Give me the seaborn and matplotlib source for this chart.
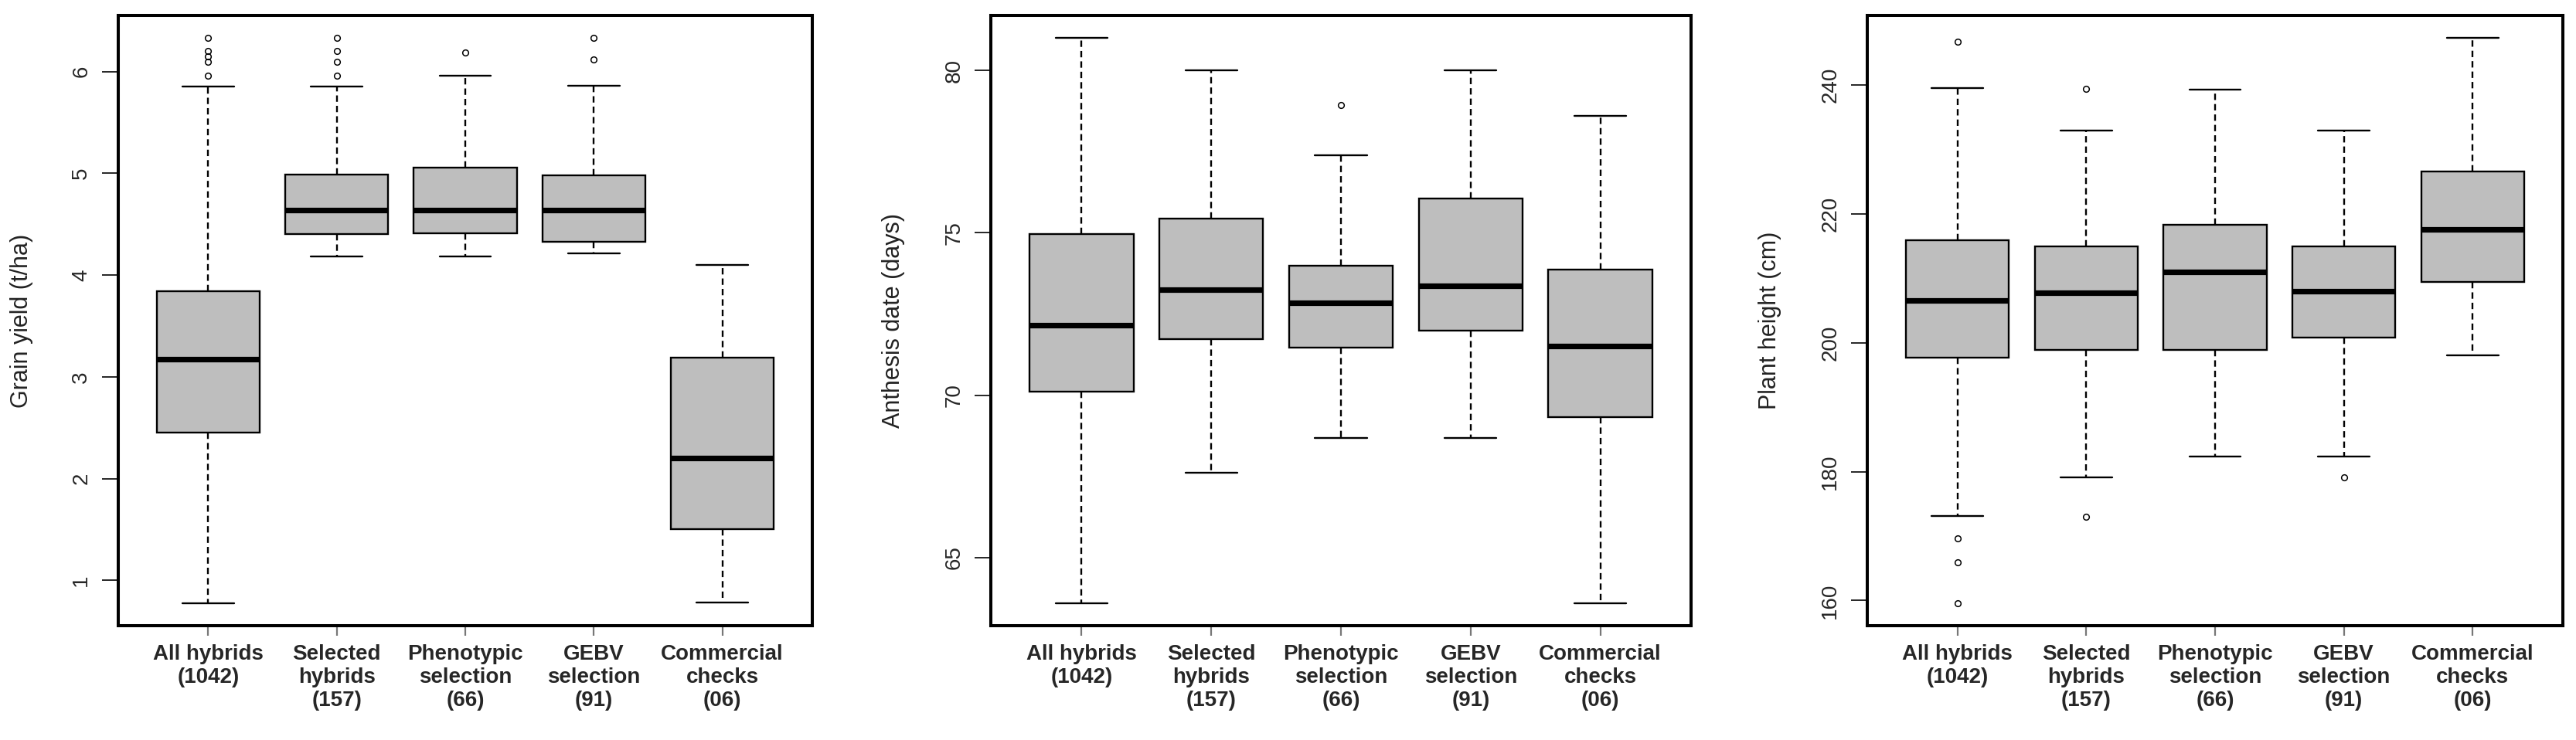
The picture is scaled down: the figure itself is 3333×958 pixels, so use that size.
import numpy as np
import pandas as pd
import matplotlib
matplotlib.use('Agg')
import matplotlib.pyplot as plt
import seaborn as sns

sns.set_style('white')
plt.rcParams['font.family'] = ['Liberation Sans', 'DejaVu Sans']

groups = ['All hybrids\n(1042)', 'Selected\nhybrids\n(157)', 'Phenotypic\nselection\n(66)',
          'GEBV\nselection\n(91)', 'Commercial\nchecks\n(06)']

# grain yield (t/ha): whisker low, q1, median, q3, whisker high, outliers
gy_low = [0.776, 4.18, 4.18, 4.21, 0.78]
gy_q1 = [2.45, 4.40, 4.41, 4.33, 1.505]
gy_med = [3.17, 4.64, 4.64, 4.64, 2.205]
gy_q3 = [3.84, 4.99, 5.06, 4.98, 3.19]
gy_high = [5.855, 5.855, 5.96, 5.86, 4.10]
gy_out = [[5.96, 6.10, 6.15, 6.20, 6.33], [5.96, 6.10, 6.20, 6.33], [6.19], [6.12, 6.33], []]

# anthesis date (days)
ad_low = [63.6, 67.62, 68.68, 68.68, 63.6]
ad_q1 = [70.12, 71.72, 71.46, 71.98, 69.33]
ad_med = [72.16, 73.26, 72.84, 73.36, 71.52]
ad_q3 = [74.96, 75.43, 74.00, 76.05, 73.86]
ad_high = [81.0, 80.0, 77.38, 80.0, 78.61]
ad_out = [[], [], [78.94], [], []]

# plant height (cm)
ph_low = [173.1, 179.1, 182.3, 182.4, 198.0]
ph_q1 = [197.7, 198.9, 198.9, 200.8, 209.5]
ph_med = [206.6, 207.8, 211.0, 208.0, 217.6]
ph_q3 = [215.9, 215.0, 218.3, 214.9, 226.6]
ph_high = [239.5, 233.0, 239.3, 233.0, 247.3]
ph_out = [[246.75, 169.6, 165.9, 159.6], [239.4, 173.05], [], [179.1], []]

yticks_gy = [1, 2, 3, 4, 5, 6]
yticks_ad = [65, 70, 75, 80]
yticks_ph = [160, 180, 200, 220, 240]


def make_long(low, q1, med, q3, high, out):
    # build a sample per group whose quartiles / whiskers / outliers match the figure
    rows = []
    for g, lo, a, m, b, hi, ou in zip(groups, low, q1, med, q3, high, out):
        lows = sorted(v for v in ou if v < a) + [lo]
        highs = [hi] + sorted(v for v in ou if v > b)
        k = max(len(lows), len(highs)) + 1
        vals = lows + [a] * (k - len(lows) + 1) + [m] * k + [b] * k + [b] * (k - len(highs)) + highs
        rows += [(g, v) for v in vals]
    return pd.DataFrame(rows, columns=['group', 'value'])


panels = [
    (make_long(gy_low, gy_q1, gy_med, gy_q3, gy_high, gy_out), 'Grain yield (t/ha)', yticks_gy,
     [153, 898]),
    (make_long(ad_low, ad_q1, ad_med, ad_q3, ad_high, ad_out), 'Anthesis date (days)', yticks_ad,
     [1282, 906]),
    (make_long(ph_low, ph_q1, ph_med, ph_q3, ph_high, ph_out), 'Plant height (cm)', yticks_ph,
     [2416, 900]),
]

W, H = 3333, 958
fig = plt.figure(figsize=(W / 100, H / 100), dpi=100)

for df, ylab, yt, (x0, w) in panels:
    ax = fig.add_axes([x0 / W, (H - 810) / H, w / W, 790 / H])
    sns.boxplot(data=df, x='group', y='value', order=groups, ax=ax,
                color='#bebebe', saturation=1, width=0.8, linecolor='black',
                linewidth=1.7, fliersize=5.5, whis=1.5, capwidths=0.4,
                flierprops=dict(marker='o', markerfacecolor='none', markeredgewidth=1.1),
                whiskerprops=dict(linestyle=(0, (3.5, 2.2))),
                medianprops=dict(linewidth=5.2))
    vmin, vmax = df['value'].min(), df['value'].max()
    r = vmax - vmin
    ax.set_ylim(vmin - 0.04 * r, vmax + 0.04 * r)
    ax.set_xlim(-0.7, 4.7)
    ax.set_yticks(yt)
    ax.set_yticklabels([str(v) for v in yt])
    ax.set_xlabel('')
    ax.set_ylabel(ylab, fontsize=22, color='#222222')
    ax.yaxis.set_label_coords(-0.123, 0.5)
    for s in ax.spines.values():
        s.set_linewidth(2.9)
        s.set_color('black')
    ax.tick_params(axis='y', direction='out', length=15, width=1.4, labelsize=20,
                   labelrotation=90, pad=10, left=True)
    ax.tick_params(axis='x', direction='out', length=9, width=1.6, color='#777777',
                   labelsize=20, pad=8, bottom=True)
    for t in ax.get_yticklabels():
        t.set_rotation(90)
        t.set_va('center')
    for t in ax.get_xticklabels():
        t.set_fontweight('bold')
        t.set_linespacing(1.2)

fig.savefig('out.png', dpi=100)
